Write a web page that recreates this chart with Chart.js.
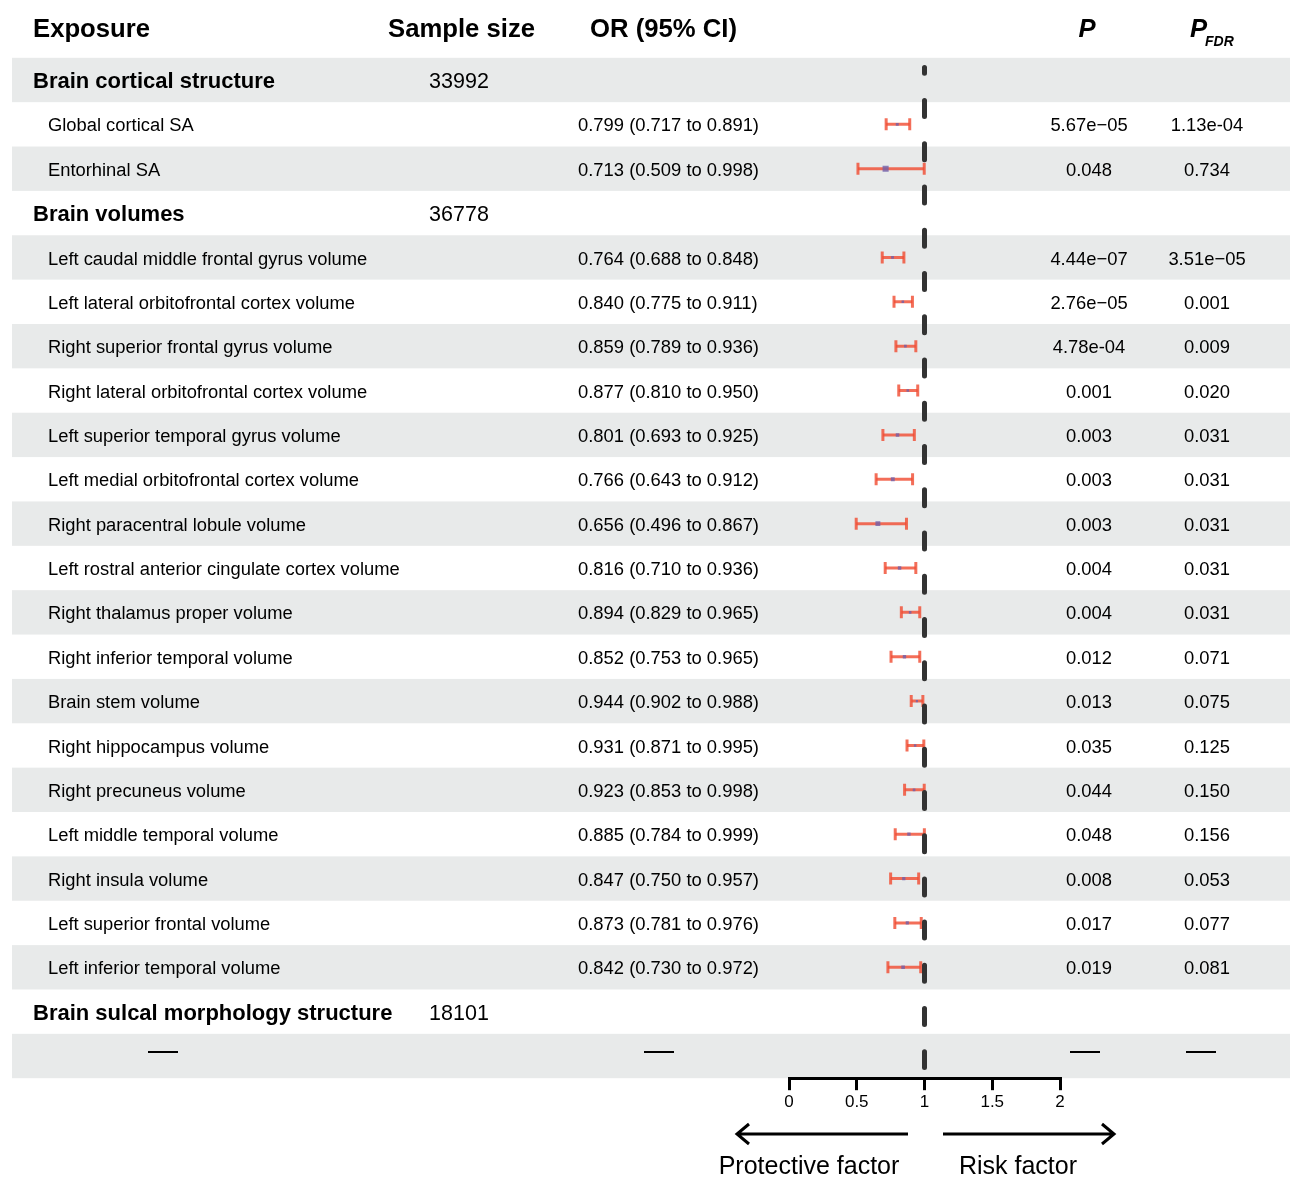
<!DOCTYPE html>
<html><head><meta charset="utf-8">
<script src="https://cdn.jsdelivr.net/npm/chart.js@4.4.1/dist/chart.umd.min.js"></script>
<style>html,body{margin:0;padding:0;background:#fff}#wrap{width:1290px;height:1178px;position:relative}</style>
</head><body><div id="wrap"><canvas id="c" width="1290" height="1178"></canvas></div>
<script>
// ---------------- DATA ----------------
const exposures = [
  'Brain cortical structure',
  'Global cortical SA',
  'Entorhinal SA',
  'Brain volumes',
  'Left caudal middle frontal gyrus volume',
  'Left lateral orbitofrontal cortex volume',
  'Right superior frontal gyrus volume',
  'Right lateral orbitofrontal cortex volume',
  'Left superior temporal gyrus volume',
  'Left medial orbitofrontal cortex volume',
  'Right paracentral lobule volume',
  'Left rostral anterior cingulate cortex volume',
  'Right thalamus proper volume',
  'Right inferior temporal volume',
  'Brain stem volume',
  'Right hippocampus volume',
  'Right precuneus volume',
  'Left middle temporal volume',
  'Right insula volume',
  'Left superior frontal volume',
  'Left inferior temporal volume',
  'Brain sulcal morphology structure',
  '—'
];
const rowTypes = ['group','item','item','group','item','item','item','item','item','item','item','item','item','item','item','item','item','item','item','item','item','group','empty'];
const sampleSizes = ['33992',null,null,'36778',null,null,null,null,null,null,null,null,null,null,null,null,null,null,null,null,null,'18101',null];
const orEstimates = [null,0.799,0.713,null,0.764,0.840,0.859,0.877,0.801,0.766,0.656,0.816,0.894,0.852,0.944,0.931,0.923,0.885,0.847,0.873,0.842,null,null];
const ciLower     = [null,0.717,0.509,null,0.688,0.775,0.789,0.810,0.693,0.643,0.496,0.710,0.829,0.753,0.902,0.871,0.853,0.784,0.750,0.781,0.730,null,null];
const ciUpper     = [null,0.891,0.998,null,0.848,0.911,0.936,0.950,0.925,0.912,0.867,0.936,0.965,0.965,0.988,0.995,0.998,0.999,0.957,0.976,0.972,null,null];
const pValues = [null,'5.67e\u221205','0.048',null,'4.44e\u221207','2.76e\u221205','4.78e-04','0.001','0.003','0.003','0.003','0.004','0.004','0.012','0.013','0.035','0.044','0.048','0.008','0.017','0.019',null,'—'];
const pFdrValues = [null,'1.13e-04','0.734',null,'3.51e\u221205','0.001','0.009','0.020','0.031','0.031','0.031','0.031','0.031','0.071','0.075','0.125','0.150','0.156','0.053','0.077','0.081',null,'—'];
const xTicks = [0, 0.5, 1, 1.5, 2];
const xTickLabels = ['0', '0.5', '1', '1.5', '2'];
const columnHeaders = ['Exposure','Sample size','OR (95% CI)','P','P','FDR'];
const axisLabels = ['Protective factor','Risk factor'];

// ---------------- STYLE ----------------
const FONT = '"Liberation Sans", Arial, Helvetica, sans-serif';
const N = exposures.length;
const CI_COLOR = 'rgba(240,78,52,0.82)';
const PT_COLOR = 'rgba(112,96,170,0.8)';
const BAND = '#e8eaea';

const datasets = [];
// reference line at OR = 1
datasets.push({
  data: [{x: 1, y: -0.281}, {x: 1, y: 22.259}],
  showLine: true, borderColor: '#333333', borderWidth: 5,
  borderDash: [16, 27.24], borderDashOffset: 10.2, borderCapStyle: 'round',
  pointRadius: 0, pointHoverRadius: 0
});
// point estimates
const ptData = [], ptRad = [];
orEstimates.forEach((v, i) => {
  if (v !== null) { ptData.push({x: v, y: i}); ptRad.push((0.6 + 5 * (ciUpper[i] - ciLower[i])) * 1.414); }
});
datasets.push({
  data: ptData, pointStyle: 'rect', pointRadius: ptRad, pointHoverRadius: ptRad,
  pointBackgroundColor: PT_COLOR, pointBorderWidth: 0, showLine: false
});
// confidence intervals
orEstimates.forEach((v, i) => {
  if (v === null) return;
  datasets.push({
    data: [{x: ciLower[i], y: i}, {x: ciUpper[i], y: i}],
    showLine: true, borderColor: CI_COLOR, borderWidth: 3, borderCapStyle: 'butt',
    pointStyle: 'line', rotation: 90, pointRadius: 6, pointHoverRadius: 6,
    pointBorderColor: CI_COLOR, pointBackgroundColor: CI_COLOR, pointBorderWidth: 3
  });
});

function txt(ctx, s, x, y, size, weight, align, italic) {
  ctx.font = (italic ? 'italic ' : '') + (weight || 'normal') + ' ' + size + 'px ' + FONT;
  ctx.textAlign = align || 'left';
  ctx.textBaseline = 'middle';
  ctx.fillStyle = '#000';
  ctx.fillText(s, x, y);
}

const tablePlugin = {
  id: 'table',
  beforeDraw(chart) {
    const ctx = chart.ctx, ys = chart.scales.y;
    const h = Math.abs(ys.getPixelForValue(1) - ys.getPixelForValue(0));
    ctx.save();
    ctx.fillStyle = '#fff';
    ctx.fillRect(0, 0, chart.width, chart.height);
    for (let i = 0; i < N; i += 2) {
      const yc = ys.getPixelForValue(i);
      ctx.fillStyle = BAND;
      ctx.fillRect(12, yc - h / 2, 1278, h);
    }
    // headers
    txt(ctx, columnHeaders[0], 33, 30, 25.7, 'bold');
    txt(ctx, columnHeaders[1], 388, 30, 25.7, 'bold');
    txt(ctx, columnHeaders[2], 590, 30, 25.7, 'bold');
    txt(ctx, columnHeaders[3], 1087, 30, 25.7, 'bold', 'center', true);
    txt(ctx, columnHeaders[4], 1190, 30, 25.7, 'bold', 'left', true);
    txt(ctx, columnHeaders[5], 1205, 42, 14, 'bold', 'left', true);
    for (let i = 0; i < N; i++) {
      const yc = ys.getPixelForValue(i) + 2;
      if (rowTypes[i] === 'group') {
        txt(ctx, exposures[i], 33, yc, 22, 'bold');
        if (sampleSizes[i]) txt(ctx, sampleSizes[i], 459, yc, 21.5, 'normal', 'center');
      } else if (rowTypes[i] === 'item') {
        txt(ctx, exposures[i], 48, yc, 18.35, 'normal');
        const s = orEstimates[i].toFixed(3) + ' (' + ciLower[i].toFixed(3) + ' to ' + ciUpper[i].toFixed(3) + ')';
        txt(ctx, s, 578, yc, 18.4, 'normal');
        txt(ctx, pValues[i], 1089, yc, 18.4, 'normal', 'center');
        txt(ctx, pFdrValues[i], 1207, yc, 18.4, 'normal', 'center');
      } else {
        txt(ctx, exposures[i], 163, yc - 6, 30, 'normal', 'center');
        txt(ctx, '—', 659, yc - 6, 30, 'normal', 'center');
        txt(ctx, pValues[i], 1085, yc - 6, 30, 'normal', 'center');
        txt(ctx, pFdrValues[i], 1201, yc - 6, 30, 'normal', 'center');
      }
    }
    ctx.restore();
  },
  afterDraw(chart) {
    const ctx = chart.ctx;
    ctx.save();
    ctx.strokeStyle = '#000'; ctx.lineWidth = 3; ctx.lineCap = 'butt';
    ctx.beginPath();
    ctx.moveTo(908, 1134); ctx.lineTo(737, 1134);
    ctx.moveTo(749, 1124); ctx.lineTo(737, 1134); ctx.lineTo(749, 1144);
    ctx.moveTo(943, 1134); ctx.lineTo(1114, 1134);
    ctx.moveTo(1102, 1124); ctx.lineTo(1114, 1134); ctx.lineTo(1102, 1144);
    ctx.stroke();
    txt(ctx, axisLabels[0], 809, 1167, 25, 'normal', 'center');
    txt(ctx, axisLabels[1], 1018, 1167, 25, 'normal', 'center');
    ctx.restore();
  }
};

const XAXIS_H = 40;
new Chart(document.getElementById('c'), {
  type: 'scatter',
  data: { datasets },
  options: {
    responsive: false, animation: false, devicePixelRatio: 1,
    layout: { padding: { left: 789, right: 230, top: 57.8, bottom: 1178 - 1078.2 - XAXIS_H } },
    plugins: { legend: { display: false }, tooltip: { enabled: false } },
    scales: {
      x: {
        type: 'linear', min: 0, max: 2,
        afterBuildTicks: s => { s.ticks = xTicks.map(v => ({ value: v })); },
        afterFit: s => { s.height = XAXIS_H; },
        border: { display: true, color: '#000', width: 3 },
        grid: { drawOnChartArea: false, drawTicks: true, tickLength: 12, color: '#000', lineWidth: 3 },
        ticks: {
          color: '#000', padding: 2, font: { family: FONT, size: 17 }, maxRotation: 0, autoSkip: false,
          callback: (v) => { const k = xTicks.indexOf(v); return k >= 0 ? xTickLabels[k] : ''; }
        }
      },
      y: { type: 'linear', min: -0.5, max: 22.5, reverse: true, display: false }
    }
  },
  plugins: [tablePlugin]
});
</script>
</body></html>
